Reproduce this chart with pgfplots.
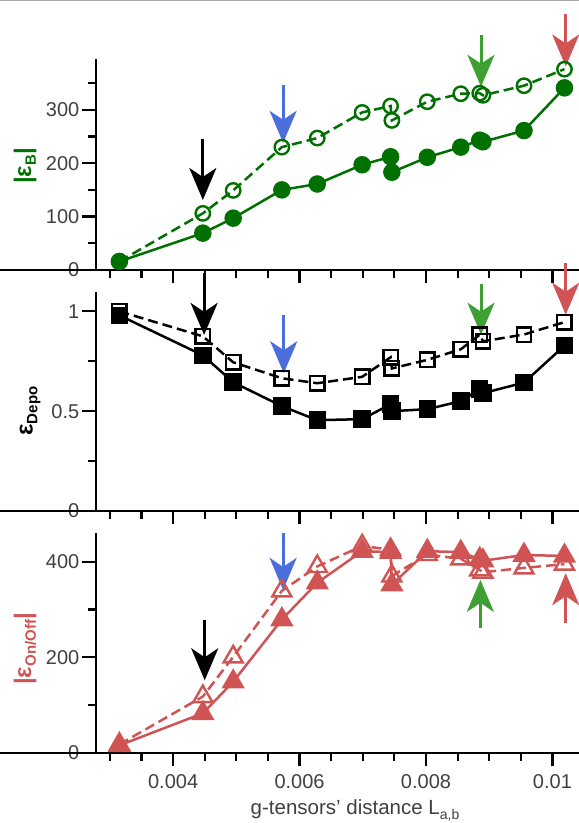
\documentclass[border=0pt]{standalone}
\usepackage{fontspec}
\setmainfont{Liberation Sans}
\usepackage{pgfplots}
\pgfplotsset{compat=1.18}
\usetikzlibrary{arrows.meta}
\definecolor{dgreen}{RGB}{0,112,0}
\definecolor{agreen}{RGB}{62,160,50}
\definecolor{ablue}{RGB}{75,110,220}
\definecolor{dred}{RGB}{208,84,84}
\definecolor{tickgray}{RGB}{64,64,64}
\newcommand{\lab}{\fontsize{24bp}{26bp}\selectfont\bfseries}
\newcommand{\sublab}[1]{\raisebox{-0.2em}{\fontsize{15bp}{15bp}\selectfont\bfseries #1}}
\tikzset{arr/.style={line width=3bp, -{Stealth[length=32bp,width=27bp,inset=9bp]}}}
\pgfplotsset{
  panel/.style={
    scale only axis, width=483bp,
    xmin=0.00278, xmax=0.01042,
    axis x line*=bottom, axis y line*=left,
    axis line style={line width=2.6bp,-},
    every tick/.style={line width=2.2bp, black},
    tick align=outside,
    xtick={0.004,0.006,0.008,0.01},
    minor xtick={0.003,0.0035,0.0045,0.005,0.0055,0.0065,0.007,0.0075,0.0085,0.009,0.0095,0.0105},
    major tick length=13.5bp, minor tick length=8bp,
    clip=false,
    scaled x ticks=false,
    /pgf/number format/assume math mode=true,
    ticklabel style={font=\fontsize{20bp}{22bp}\selectfont, text=tickgray},
    xticklabel style={/pgf/number format/fixed, /pgf/number format/precision=3, yshift=-5bp},
    yticklabel style={inner sep=3bp},
  },
}
\begin{document}
\begin{tikzpicture}
\useasboundingbox (0,0) rectangle (579bp,823bp);
\fill[black!35] (0,821.8bp) rectangle (579bp,823bp);
% ---------------- top panel
\begin{axis}[panel, at={(96bp,553bp)}, anchor=south west, height=211bp,
  ymin=0, ymax=395, ytick={0,100,200,300}, minor ytick={50,150,250,350},
  xticklabels={}]
\addplot[dgreen, line width=2.5bp, dash pattern=on 10bp off 5bp, mark=o, mark size=7.2bp,
  mark options={solid, line width=2.4bp}] coordinates {
(0.00315,16) (0.00447,106) (0.00495,149) (0.00572,230) (0.00628,247) (0.00699,295)
(0.00744,307) (0.00746,280) (0.00802,315) (0.00855,330) (0.00885,331) (0.00890,327)
(0.00955,345) (0.01019,376)};
\addplot[dgreen, line width=2.5bp, mark=*, mark size=7.5bp,
  mark options={solid, fill=dgreen}] coordinates {
(0.00315,16) (0.00447,69) (0.00495,97) (0.00572,150) (0.00628,161) (0.00699,197)
(0.00744,212) (0.00746,183) (0.00802,211) (0.00855,230) (0.00885,243) (0.00890,240)
(0.00955,261) (0.01019,341)};
\draw[line width=2.6bp] (rel axis cs:0,0) -- ++(-12bp,0);
\draw[arr, black] (axis cs:0.00447,246) -- (axis cs:0.00447,131);
\draw[arr, ablue] (axis cs:0.00574,347) -- (axis cs:0.00574,238);
\draw[arr, agreen] (axis cs:0.00887,440) -- (axis cs:0.00887,343);
\draw[arr, dred] (axis cs:0.01021,480) -- (axis cs:0.01021,381);
\end{axis}
% ---------------- middle panel
\begin{axis}[panel, at={(96bp,312bp)}, anchor=south west, height=219bp,
  ymin=0, ymax=1.097, ytick={0,0.5,1}, minor ytick={0.25,0.75},
  xticklabels={}]
\addplot[black, line width=2.5bp, dash pattern=on 10bp off 5bp, mark=square, mark size=7.2bp,
  mark options={solid, line width=2.4bp}] coordinates {
(0.00315,1.0) (0.00447,0.875) (0.00495,0.745) (0.00572,0.665) (0.00628,0.64) (0.00699,0.672)
(0.00744,0.77) (0.00746,0.714) (0.00802,0.757) (0.00855,0.81) (0.00885,0.883) (0.00890,0.85)
(0.00955,0.884) (0.01019,0.946)};
\addplot[black, line width=2.5bp, mark=square*, mark size=7.5bp,
  mark options={solid, fill=black}] coordinates {
(0.00315,0.98) (0.00447,0.78) (0.00495,0.645) (0.00572,0.525) (0.00628,0.455) (0.00699,0.46)
(0.00744,0.535) (0.00746,0.50) (0.00802,0.51) (0.00855,0.55) (0.00885,0.61) (0.00890,0.59)
(0.00955,0.643) (0.01019,0.828)};
\draw[line width=2.6bp] (rel axis cs:0,0) -- ++(-12bp,0);
\draw[arr, black] (axis cs:0.00449,1.19) -- (axis cs:0.00449,0.882);
\draw[arr, ablue] (axis cs:0.00575,0.983) -- (axis cs:0.00575,0.69);
\draw[arr, agreen] (axis cs:0.00887,1.139) -- (axis cs:0.00887,0.883);
\draw[arr, dred] (axis cs:0.01021,1.244) -- (axis cs:0.01021,0.983);
\end{axis}
% ---------------- bottom panel
\begin{axis}[panel, at={(96bp,70bp)}, anchor=south west, height=220bp,
  ymin=0, ymax=460, ytick={0,200,400}, minor ytick={100,300}]
\addplot[dred, line width=2.5bp, dash pattern=on 10bp off 5bp, mark=triangle, mark size=11bp,
  mark options={solid, line width=2.4bp}] coordinates {
(0.00315,18) (0.00447,118) (0.00495,201) (0.00572,339) (0.00628,390) (0.00699,433)
(0.00744,425) (0.00746,370) (0.00802,415) (0.00855,406) (0.00885,383) (0.00890,378)
(0.00955,387) (0.01019,395)};
\addplot[dred, line width=2.5bp, mark=triangle*, mark size=11bp,
  mark options={solid, fill=dred}] coordinates {
(0.00315,16) (0.00447,83) (0.00495,149) (0.00572,279) (0.00628,356) (0.00699,422)
(0.00744,420) (0.00746,352) (0.00802,422) (0.00855,420) (0.00885,405) (0.00890,402)
(0.00955,414) (0.01019,412)};
\draw[line width=2.6bp] (rel axis cs:0,0) -- ++(-12bp,0);
\draw[arr, black] (axis cs:0.00450,279) -- (axis cs:0.00450,152);
\draw[arr, ablue] (axis cs:0.00574,461) -- (axis cs:0.00574,341);
\draw[arr, agreen] (axis cs:0.00886,261) -- (axis cs:0.00886,362);
\draw[arr, dred] (axis cs:0.01021,271) -- (axis cs:0.01021,376);
\end{axis}
% ---------------- labels
\node[rotate=90, text=dgreen, inner sep=0] at (25bp,657bp) {\lab |ε\sublab{B}|};
\node[rotate=90, text=black, inner sep=0] at (30bp,412bp) {\lab ε\sublab{Depo}};
\node[rotate=90, text=dred, inner sep=0] at (25bp,174bp) {\lab |ε\sublab{On/Off}|};
\node[anchor=base, text=tickgray, inner sep=0, font=\fontsize{20.5bp}{22bp}\selectfont] at (355bp,8.5bp)
  {g-tensors' distance L\raisebox{-0.25em}{\fontsize{14bp}{14bp}\selectfont a,b}};
\end{tikzpicture}
\end{document}
